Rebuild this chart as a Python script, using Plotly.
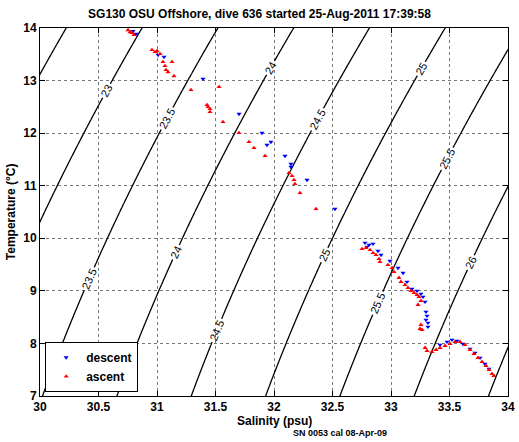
import numpy as np
import plotly.graph_objects as go

# ---- data ----
desc_S = [30.821, 30.795, 31.009, 31.060, 31.393, 31.701, 31.897, 31.940, 31.974, 32.094,
          32.145, 32.145, 32.282, 32.521,
          32.778, 32.812, 32.846, 32.795, 32.889, 32.915, 32.991, 33.060, 33.103, 33.137,
          33.179, 33.222, 33.256, 33.274, 33.291, 33.299, 33.308, 33.299, 33.316, 33.316,
          33.419, 33.479, 33.521, 33.564, 33.615, 33.675, 33.718, 33.761, 33.803, 33.838]
desc_T = [13.886, 13.940, 13.487, 13.449, 13.030, 12.365, 12.004, 11.776, 11.833, 11.567,
          11.414, 11.357, 11.110, 10.559,
          9.913, 9.875, 9.894, 9.837, 9.760, 9.684, 9.570, 9.437, 9.342, 9.171,
          9.038, 9.000, 8.943, 8.886, 8.791, 8.601, 8.525, 8.449, 8.316, 8.392,
          7.973, 8.030, 8.068, 8.049, 7.992, 7.897, 7.821, 7.726, 7.612, 7.517]

asc_S = [30.752, 30.769, 30.786, 30.803, 30.957, 30.983, 31.000, 31.026, 31.051, 31.068,
         31.077, 31.094, 31.128, 31.145, 31.291, 31.530, 31.427, 31.436, 31.453, 31.453,
         31.564, 31.701, 31.786, 31.829, 31.923, 32.128, 32.154, 32.171, 32.179, 32.222,
         32.359,
         32.752, 32.786, 32.821, 32.846, 32.872, 32.897, 32.906, 32.974, 33.009, 33.026,
         33.068, 33.085, 33.120, 33.145, 33.171, 33.197, 33.222, 33.239, 33.231, 33.256,
         33.256, 33.248, 33.265, 33.291, 33.308,
         33.350, 33.385, 33.419, 33.462, 33.504, 33.547, 33.590, 33.632, 33.675, 33.709,
         33.744, 33.778, 33.812, 33.838, 33.863, 33.880]
asc_T = [13.962, 13.924, 13.905, 13.867, 13.582, 13.544, 13.563, 13.506, 13.354, 13.278,
         13.202, 13.163, 13.354, 13.087, 12.821, 12.878, 12.536, 12.498, 12.460, 12.403,
         12.213, 12.004, 11.833, 11.719, 11.567, 11.243, 11.186, 11.110, 11.034, 10.863,
         10.559,
         9.798, 9.817, 9.779, 9.722, 9.684, 9.608, 9.551, 9.494, 9.437, 9.361,
         9.247, 9.171, 9.114, 9.057, 9.000, 8.962, 8.924, 8.886, 8.734, 8.810,
         8.354, 8.278, 8.259, 7.916, 7.859,
         7.840, 7.878, 7.916, 7.954, 7.992, 8.030, 8.030, 7.973, 7.878, 7.802,
         7.726, 7.650, 7.574, 7.498, 7.422, 7.384]

x_ticks = [30, 30.5, 31, 31.5, 32, 32.5, 33, 33.5, 34]
x_tick_labels = ["30", "30.5", "31", "31.5", "32", "32.5", "33", "33.5", "34"]
y_ticks = [7, 8, 9, 10, 11, 12, 13, 14]
y_tick_labels = ["7", "8", "9", "10", "11", "12", "13", "14"]

title_text = "SG130 OSU Offshore, dive 636 started 25-Aug-2011 17:39:58"
x_title = "Salinity (psu)"
y_title = "Temperature (°C)"
note_text = "SN 0053 cal 08-Apr-09"


# ---- sigma-t background field (UNESCO EOS-80, p = 0) ----
def sigma_t(S, T):
    rho_w = (999.842594 + 6.793952e-2 * T - 9.095290e-3 * T**2 + 1.001685e-4 * T**3
             - 1.120083e-6 * T**4 + 6.536332e-9 * T**5)
    A = 8.24493e-1 - 4.0899e-3 * T + 7.6438e-5 * T**2 - 8.2467e-7 * T**3 + 5.3875e-9 * T**4
    B = -5.72466e-3 + 1.0227e-4 * T - 1.6546e-6 * T**2
    C = 4.8314e-4
    return rho_w + A * S + B * S**1.5 + C * S**2 - 1000.0


Sg = np.linspace(29.9, 34.1, 211)
# two stacked panels of the same field so each isopycnal gets a label in each half
T_parts = [np.linspace(6.9, 10.5, 91), np.linspace(10.5, 14.1, 91)]

font_main = dict(family="Arial, Liberation Sans, Helvetica, sans-serif", color="black")

fig = go.Figure()
for Tg in T_parts:
    S2, T2 = np.meshgrid(Sg, Tg)
    fig.add_trace(go.Contour(
        x=Sg, y=Tg, z=sigma_t(S2, T2),
        contours=dict(start=22.5, end=26.5, size=0.5, coloring="lines", showlabels=True,
                      labelfont=dict(family="Arial, Liberation Sans", size=11, color="black")),
        colorscale=[[0, "black"], [1, "black"]],
        line=dict(width=1.3, color="black"),
        showscale=False, hoverinfo="skip", showlegend=False,
    ))
fig.add_trace(go.Scatter(
    x=desc_S, y=desc_T, mode="markers", name="descent",
    marker=dict(symbol="triangle-down", size=4.5, color="#0000ff"),
))
fig.add_trace(go.Scatter(
    x=asc_S, y=asc_T, mode="markers", name="ascent",
    marker=dict(symbol="triangle-up", size=4.5, color="#ff0000"),
))

axis_common = dict(
    showline=True, linecolor="black", linewidth=1, mirror="ticks",
    ticks="inside", ticklen=5, tickcolor="black",
    showgrid=True, gridcolor="#777777", griddash="dot", gridwidth=1,
    zeroline=False, automargin=False,
    tickfont=dict(size=12, weight="bold", **font_main),
)
fig.update_layout(
    width=519, height=442,
    margin=dict(l=40, r=11, t=28, b=46),
    paper_bgcolor="white", plot_bgcolor="white",
    title=dict(text=title_text, x=0.5, xanchor="center", y=0.968, yanchor="middle",
               font=dict(size=12, weight="bold", **font_main)),
    xaxis=dict(range=[30, 34], tickvals=x_ticks, ticktext=x_tick_labels, **axis_common),
    yaxis=dict(range=[7, 14], tickvals=y_ticks, ticktext=y_tick_labels, **axis_common),
    legend=dict(x=0.011, y=0.011, xanchor="left", yanchor="bottom",
                bgcolor="white", bordercolor="black", borderwidth=1,
                font=dict(size=12, weight="bold", **font_main),
                itemwidth=30, tracegroupgap=0),
    annotations=[
        dict(text=x_title, xref="paper", yref="paper", x=0.5, y=-0.067,
             xanchor="center", yanchor="middle", showarrow=False,
             font=dict(size=12, weight="bold", **font_main)),
        dict(text=y_title, xref="paper", yref="paper", x=-0.0615, y=0.5, textangle=-90,
             xanchor="center", yanchor="middle", showarrow=False,
             font=dict(size=12, weight="bold", **font_main)),
        dict(text=note_text, xref="paper", yref="paper", x=0.64, y=-0.1,
             xanchor="center", yanchor="middle", showarrow=False,
             font=dict(size=9, weight="bold", **font_main)),
    ],
)

fig.write_html("out.html", config={"displayModeBar": False},
               post_script="document.body.style.margin='0';document.body.style.overflow='hidden';")
